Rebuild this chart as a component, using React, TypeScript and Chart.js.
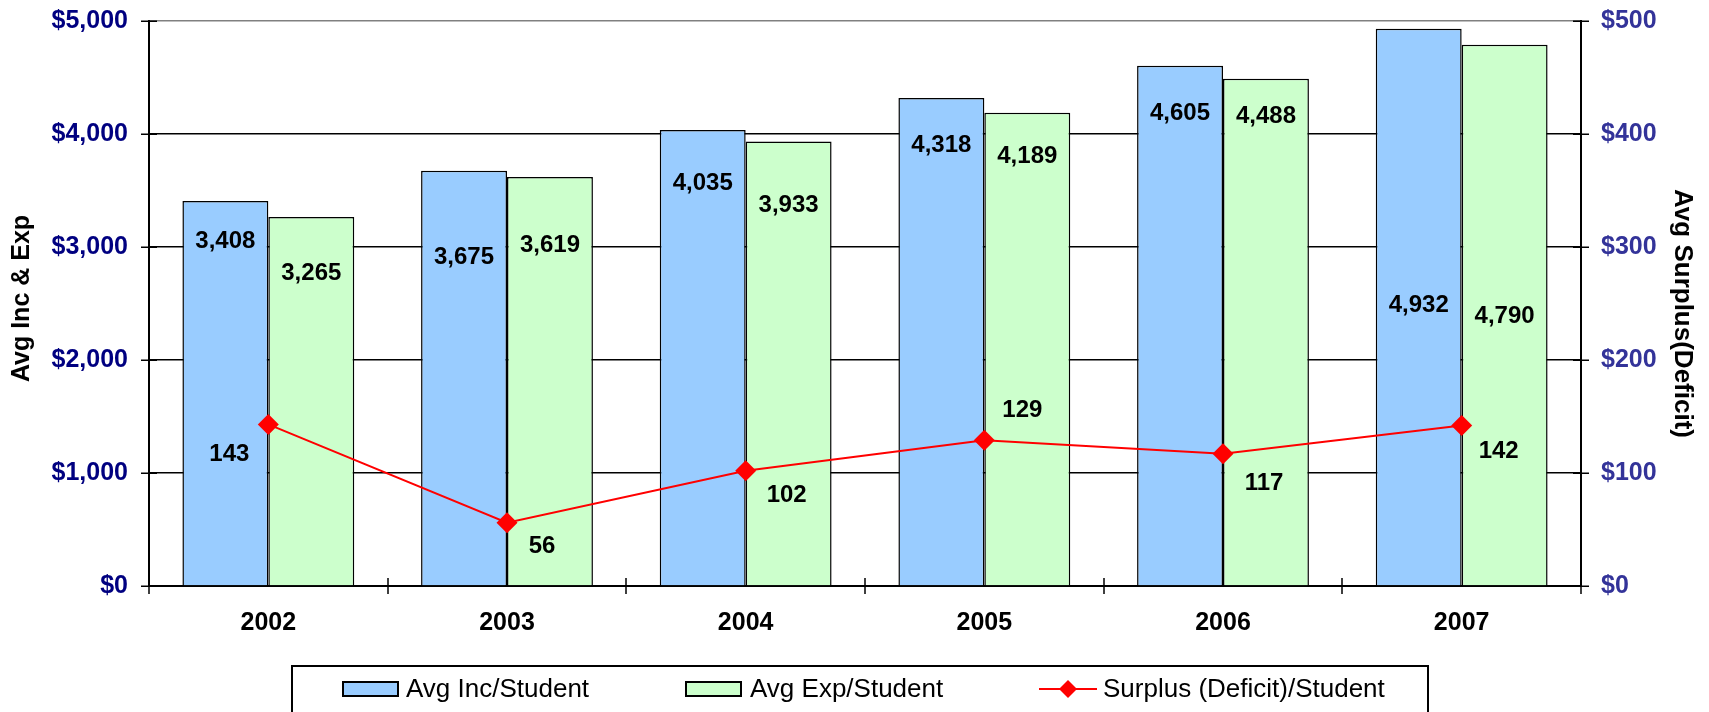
import React, { useEffect, useRef } from 'react';
import { Chart, registerables } from 'chart.js';

Chart.register(...registerables);

// ---- data ----
const years = ['2002', '2003', '2004', '2005', '2006', '2007'];
const avgIncome = [3408, 3675, 4035, 4318, 4605, 4932];
const avgExpense = [3265, 3619, 3933, 4189, 4488, 4790];
const surplus = [143, 56, 102, 129, 117, 142];
const leftTicks = [0, 1000, 2000, 3000, 4000, 5000];
const rightTicks = [0, 100, 200, 300, 400, 500];
const seriesNames = ['Avg Inc/Student', 'Avg Exp/Student', 'Surplus (Deficit)/Student'];
const leftTitle = 'Avg Inc & Exp';
const rightTitle = 'Avg Surplus(Deficit)';

// ---- label placement (value on left axis where each bar label sits) ----
const incomeLabelAt = [3053, 2912, 3566, 3903, 4186, 2487];
const expenseLabelAt = [2770, 3018, 3372, 3805, 4159, 2389];
// pixel offsets of surplus labels from their points
const surplusLabelOffset = [[-39, 30], [35, 24], [41, 25], [38, -30], [41, 30], [37, 26]];

const FONT = "'Liberation Sans', Arial, sans-serif";
const fmt = (v: number) => v.toLocaleString('en-US');
const money = (v: number) => '$' + v.toLocaleString('en-US');

const decorPlugin = {
  id: 'decor',
  afterDraw(chart: any) {
    const ctx = chart.ctx;
    const { left, right, top, bottom } = chart.chartArea;
    const xS = chart.scales.x;
    const yS = chart.scales.y;
    const y1S = chart.scales.y1;
    ctx.save();
    // crossing tick marks
    ctx.strokeStyle = '#000';
    ctx.lineWidth = 1.5;
    ctx.beginPath();
    leftTicks.forEach((v) => {
      const py = Math.round(yS.getPixelForValue(v)) + 0.25;
      ctx.moveTo(left - 8, py);
      ctx.lineTo(left + 8, py);
    });
    rightTicks.forEach((v) => {
      const py = Math.round(y1S.getPixelForValue(v)) + 0.25;
      ctx.moveTo(right - 8, py);
      ctx.lineTo(right + 8, py);
    });
    const n = years.length;
    for (let i = 0; i <= n; i++) {
      const px = Math.round(xS.left + (i * (xS.right - xS.left)) / n);
      ctx.moveTo(px, bottom - 8);
      ctx.lineTo(px, bottom + 8);
    }
    ctx.stroke();

    // axis titles
    ctx.fillStyle = '#000';
    ctx.textAlign = 'center';
    ctx.textBaseline = 'middle';
    ctx.font = `bold 25px ${FONT}`;
    ctx.save();
    ctx.translate(22, (top + bottom) / 2 - 5);
    ctx.rotate(-Math.PI / 2);
    ctx.fillText(leftTitle, 0, 0);
    ctx.restore();
    ctx.font = `bold 26px ${FONT}`;
    ctx.save();
    ctx.translate(1682, (top + bottom) / 2 + 10);
    ctx.rotate(Math.PI / 2);
    ctx.fillText(rightTitle, 0, 0);
    ctx.restore();

    // bar labels
    ctx.font = `bold 24px ${FONT}`;
    const incMeta = chart.getDatasetMeta(1);
    const expMeta = chart.getDatasetMeta(2);
    avgIncome.forEach((v, j) => {
      ctx.fillText(fmt(v), incMeta.data[j].x, yS.getPixelForValue(incomeLabelAt[j]));
    });
    avgExpense.forEach((v, j) => {
      ctx.fillText(fmt(v), expMeta.data[j].x, yS.getPixelForValue(expenseLabelAt[j]));
    });
    // surplus labels
    const lineMeta = chart.getDatasetMeta(0);
    surplus.forEach((v, j) => {
      const p = lineMeta.data[j];
      ctx.fillText(fmt(v), p.x + surplusLabelOffset[j][0], p.y + surplusLabelOffset[j][1]);
    });

    // legend
    ctx.lineWidth = 2;
    ctx.strokeStyle = '#000';
    ctx.strokeRect(292, 666, 1136, 60);
    ctx.font = `26px ${FONT}`;
    ctx.textAlign = 'left';
    const ly = 689;
    // item 1
    ctx.fillStyle = '#99CCFF';
    ctx.fillRect(343, 682, 55, 14);
    ctx.strokeRect(343, 682, 55, 14);
    ctx.fillStyle = '#000';
    ctx.fillText(seriesNames[0], 406, ly + 1);
    // item 2
    ctx.fillStyle = '#CCFFCC';
    ctx.fillRect(686, 682, 55, 14);
    ctx.strokeRect(686, 682, 55, 14);
    ctx.fillStyle = '#000';
    ctx.fillText(seriesNames[1], 750, ly + 1);
    // item 3
    ctx.strokeStyle = '#FF0000';
    ctx.lineWidth = 2;
    ctx.beginPath();
    ctx.moveTo(1039, ly);
    ctx.lineTo(1097, ly);
    ctx.stroke();
    ctx.fillStyle = '#FF0000';
    ctx.beginPath();
    ctx.moveTo(1068, ly - 9);
    ctx.lineTo(1077, ly);
    ctx.lineTo(1068, ly + 9);
    ctx.lineTo(1059, ly);
    ctx.closePath();
    ctx.fill();
    ctx.fillStyle = '#000';
    ctx.fillText(seriesNames[2], 1103, ly + 1);
    ctx.restore();
  },
};

export default function App() {
  const ref = useRef<HTMLCanvasElement | null>(null);
  useEffect(() => {
    if (!ref.current) return;
    const chart = new Chart(ref.current, {
      type: 'bar',
      data: {
        labels: years,
        datasets: [
          {
            type: 'line',
            label: seriesNames[2],
            data: surplus,
            yAxisID: 'y1',
            borderColor: '#FF0000',
            backgroundColor: '#FF0000',
            borderWidth: 2,
            pointStyle: 'rectRot',
            pointRadius: 10.5,
            pointBackgroundColor: '#FF0000',
            pointBorderColor: '#FF0000',
            pointBorderWidth: 0,
            tension: 0,
            order: 0,
          } as any,
          {
            label: seriesNames[0],
            data: avgIncome,
            yAxisID: 'y',
            backgroundColor: '#99CCFF',
            borderColor: '#000',
            borderWidth: 1.5,
            categoryPercentage: 0.72,
            barPercentage: 1,
            order: 1,
          },
          {
            label: seriesNames[1],
            data: avgExpense,
            yAxisID: 'y',
            backgroundColor: '#CCFFCC',
            borderColor: '#000',
            borderWidth: 1.5,
            categoryPercentage: 0.72,
            barPercentage: 1,
            order: 1,
          },
        ],
      },
      options: {
        responsive: false,
        animation: false,
        layout: { padding: { top: 21, left: 0, right: 0, bottom: 0 } },
        plugins: { legend: { display: false }, tooltip: { enabled: false } },
        scales: {
          x: {
            grid: { display: false, drawTicks: false },
            border: { display: true, color: '#000', width: 2 },
            ticks: { font: { family: FONT, size: 25, weight: 'bold' }, color: '#000', padding: 22, maxRotation: 0 },
            afterFit: (s: any) => { s.height = 126; },
          },
          y: {
            position: 'left',
            min: 0,
            max: 5000,
            afterBuildTicks: (s: any) => { s.ticks = leftTicks.map((v) => ({ value: v })); },
            ticks: { font: { family: FONT, size: 25, weight: 'bold' }, color: '#000080', padding: 3, callback: (v: any) => money(Number(v)) },
            grid: {
              color: (c: any) => (c.tick && c.tick.value === 5000 ? '#808080' : '#000'),
              lineWidth: 1.5,
              drawTicks: true,
              tickLength: 18,
              tickColor: 'rgba(0,0,0,0)',
            },
            border: { color: '#000', width: 2 },
            afterFit: (s: any) => { s.width = 149; },
          },
          y1: {
            position: 'right',
            min: 0,
            max: 500,
            afterBuildTicks: (s: any) => { s.ticks = rightTicks.map((v) => ({ value: v })); },
            ticks: { font: { family: FONT, size: 25, weight: 'bold' }, color: '#333399', padding: 3, callback: (v: any) => money(Number(v)) },
            grid: { drawOnChartArea: false, drawTicks: true, tickLength: 17, tickColor: 'rgba(0,0,0,0)' },
            border: { color: '#000', width: 2 },
            afterFit: (s: any) => { s.width = 128; },
          },
        },
      } as any,
      plugins: [decorPlugin],
    });
    return () => chart.destroy();
  }, []);
  return (
    <div style={{ position: 'fixed', left: 0, top: 0, width: 1709, height: 712, background: '#fff' }}>
      <canvas ref={ref} width={1709} height={712} style={{ display: 'block' }} />
    </div>
  );
}
